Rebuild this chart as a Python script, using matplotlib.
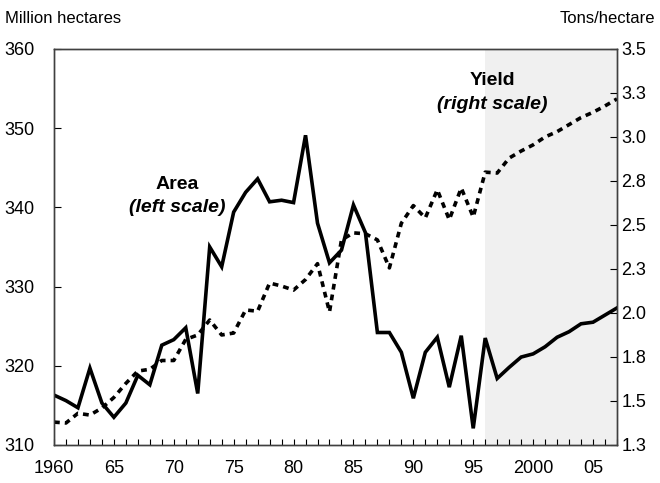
import numpy as np
import matplotlib
matplotlib.use("Agg")
import matplotlib.pyplot as plt

plt.rcParams['font.family'] = ['Liberation Sans', 'DejaVu Sans']

years = list(range(1960, 2008))

# harvested area, million hectares (left scale)
area = [316.3, 315.6, 314.7, 319.7, 315.3, 313.5, 315.3, 318.8, 317.6, 322.6,
        323.3, 324.8, 316.5, 335.0, 332.5, 339.4, 341.9, 343.6, 340.7, 340.9,
        340.6, 349.1, 338.0, 333.0, 334.6, 340.3, 336.8, 324.2, 324.2, 321.7,
        315.9, 321.7, 323.6, 317.3, 323.8, 312.1, 323.5, 318.4, 319.8, 321.1,
        321.5, 322.4, 323.6, 324.3, 325.3, 325.5, 326.4, 327.3]

# yield, tons/hectare (right scale)
yld = [1.38, 1.375, 1.43, 1.42, 1.46, 1.52, 1.60, 1.67, 1.68, 1.73,
       1.73, 1.85, 1.875, 1.96, 1.875, 1.886, 2.017, 2.01, 2.17, 2.153,
       2.13, 2.19, 2.28, 2.006, 2.415, 2.455, 2.45, 2.415, 2.256, 2.51,
       2.61, 2.54, 2.70, 2.53, 2.71, 2.545, 2.80, 2.795, 2.88, 2.92,
       2.955, 3.0, 3.03, 3.07, 3.11, 3.14, 3.176, 3.216]

proj_start = 1996
xlabel_years = [1960, 1965, 1970, 1975, 1980, 1985, 1990, 1995, 2000, 2005]
xlabel_text = ['1960', '65', '70', '75', '80', '85', '90', '95', '2000', '05']
left_ticks = [310, 320, 330, 340, 350, 360]
right_ticks = [1.25, 1.5, 1.75, 2.0, 2.25, 2.5, 2.75, 3.0, 3.25, 3.5]
right_text = ['1.3', '1.5', '1.8', '2.0', '2.3', '2.5', '2.8', '3.0', '3.3', '3.5']

fig = plt.figure(figsize=(6.6, 4.83), dpi=100)
ax = fig.add_axes([0.0818, 0.0787, 0.853, 0.82])
ax2 = ax.twinx()

ax.axvspan(proj_start, years[-1], color='#f0f0f0', lw=0, zorder=0)
ax2.plot(years, yld, color='black', lw=2.6, ls=(0, (1.6, 1.4)), zorder=2)
ax.plot(years, area, color='black', lw=2.6, solid_joinstyle='miter', zorder=3)

ax.set_xlim(years[0], years[-1])
ax.set_ylim(310, 360)
ax2.set_ylim(1.25, 3.5)

ax.set_xticks(years)
ax.set_xticklabels([xlabel_text[xlabel_years.index(y)] if y in xlabel_years else '' for y in years])
ax.set_yticks(left_ticks)
ax2.set_yticks(right_ticks)
ax2.set_yticklabels(right_text)

ax.tick_params(axis='x', direction='in', length=4, width=0.8, pad=11, labelsize=13)
ax.tick_params(axis='y', direction='in', length=5, width=0.8, pad=14, labelsize=13)
ax2.tick_params(axis='y', direction='in', length=5, width=0.8, pad=3, labelsize=13)

for a in (ax, ax2):
    for s in a.spines.values():
        s.set_color('#404040')
        s.set_linewidth(1.0)

fig.text(0.008, 0.962, 'Million hectares', fontsize=12, ha='left', va='center')
fig.text(0.992, 0.962, 'Tons/hectare', fontsize=12, ha='right', va='center')

ax.text(1970.3, 342.9, 'Area', fontsize=14, fontweight='bold', ha='center', va='center')
ax.text(1970.3, 340.0, '(left scale)', fontsize=14, fontweight='bold', style='italic',
        ha='center', va='center')
ax.text(1996.6, 356.0, 'Yield', fontsize=14, fontweight='bold', ha='center', va='center')
ax.text(1996.6, 353.0, '(right scale)', fontsize=14, fontweight='bold', style='italic',
        ha='center', va='center')

fig.savefig('out.png', dpi=100)
